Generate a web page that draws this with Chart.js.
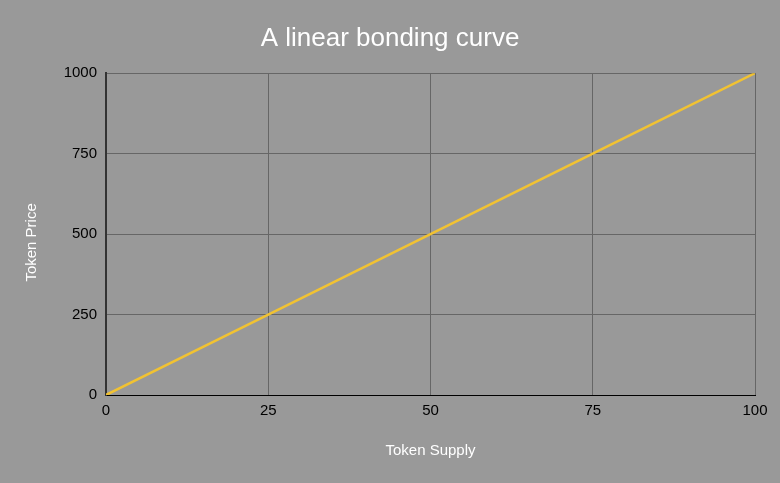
<!DOCTYPE html>
<html>
<head>
<meta charset="utf-8">
<script src="https://cdn.jsdelivr.net/npm/chart.js@4"></script>
<style>
  html, body { margin: 0; padding: 0; background: #999999; }
  #wrap { width: 780px; height: 483px; }
</style>
</head>
<body>
<div id="wrap"><canvas id="chart"></canvas></div>
<script>
const supply = [0, 25, 50, 75, 100];
const price = [0, 250, 500, 750, 1000];

const bgPlugin = {
    id: 'bg',
    beforeDraw(chart) {
        const ctx = chart.ctx;
        ctx.save();
        ctx.fillStyle = '#999999';
        ctx.fillRect(0, 0, chart.width, chart.height);
        ctx.restore();
    }
};

const font = 'Liberation Sans, Arial, Helvetica, sans-serif';

new Chart(document.getElementById('chart'), {
    type: 'scatter',
    data: {
        datasets: [{
            data: supply.map((x, i) => ({ x: x, y: price[i] })),
            showLine: true,
            borderColor: '#f1c232',
            backgroundColor: '#f1c232',
            borderWidth: 2.5,
            pointRadius: 0,
            tension: 0
        }]
    },
    options: {
        responsive: true,
        maintainAspectRatio: false,
        animation: false,
        layout: { padding: 0 },
        plugins: {
            legend: { display: false },
            tooltip: { enabled: false },
            title: {
                display: true,
                text: 'A linear bonding curve',
                color: '#ffffff',
                font: { family: font, size: 26, weight: 'normal' },
                padding: { top: 23, bottom: 19 }
            }
        },
        scales: {
            x: {
                type: 'linear',
                min: 0,
                max: 100,
                ticks: { stepSize: 25, color: '#000000', padding: 7, font: { family: font, size: 15 } },
                grid: { color: '#666666', drawTicks: false },
                border: { color: '#000000', width: 1 },
                title: {
                    display: true,
                    text: 'Token Supply',
                    color: '#ffffff',
                    font: { family: font, size: 15 },
                    padding: { top: 0, bottom: 23 }
                },
                afterFit(scale) { scale.height = 88; }
            },
            y: {
                type: 'linear',
                min: 0,
                max: 1000,
                ticks: {
                    stepSize: 250, color: '#000000', padding: 9, font: { family: font, size: 15 },
                    callback: (v) => String(v)
                },
                grid: { color: '#666666', drawTicks: false },
                border: { color: '#333333', width: 2 },
                title: {
                    display: true,
                    // trailing spaces push the label a little below the plot centre, as in the original
                    text: 'Token Price    ',
                    color: '#ffffff',
                    font: { family: font, size: 15 },
                    padding: { top: 23, bottom: 0 }
                },
                afterFit(scale) { scale.width = 106; }
            },
            // empty right axis, only keeps the plot 25px from the right edge
            yr: {
                type: 'linear',
                position: 'right',
                min: 0,
                max: 1000,
                ticks: { display: false },
                grid: { display: false, drawTicks: false },
                border: { display: false },
                afterFit(scale) { scale.width = 25; }
            }
        }
    },
    plugins: [bgPlugin]
});
</script>
</body>
</html>
